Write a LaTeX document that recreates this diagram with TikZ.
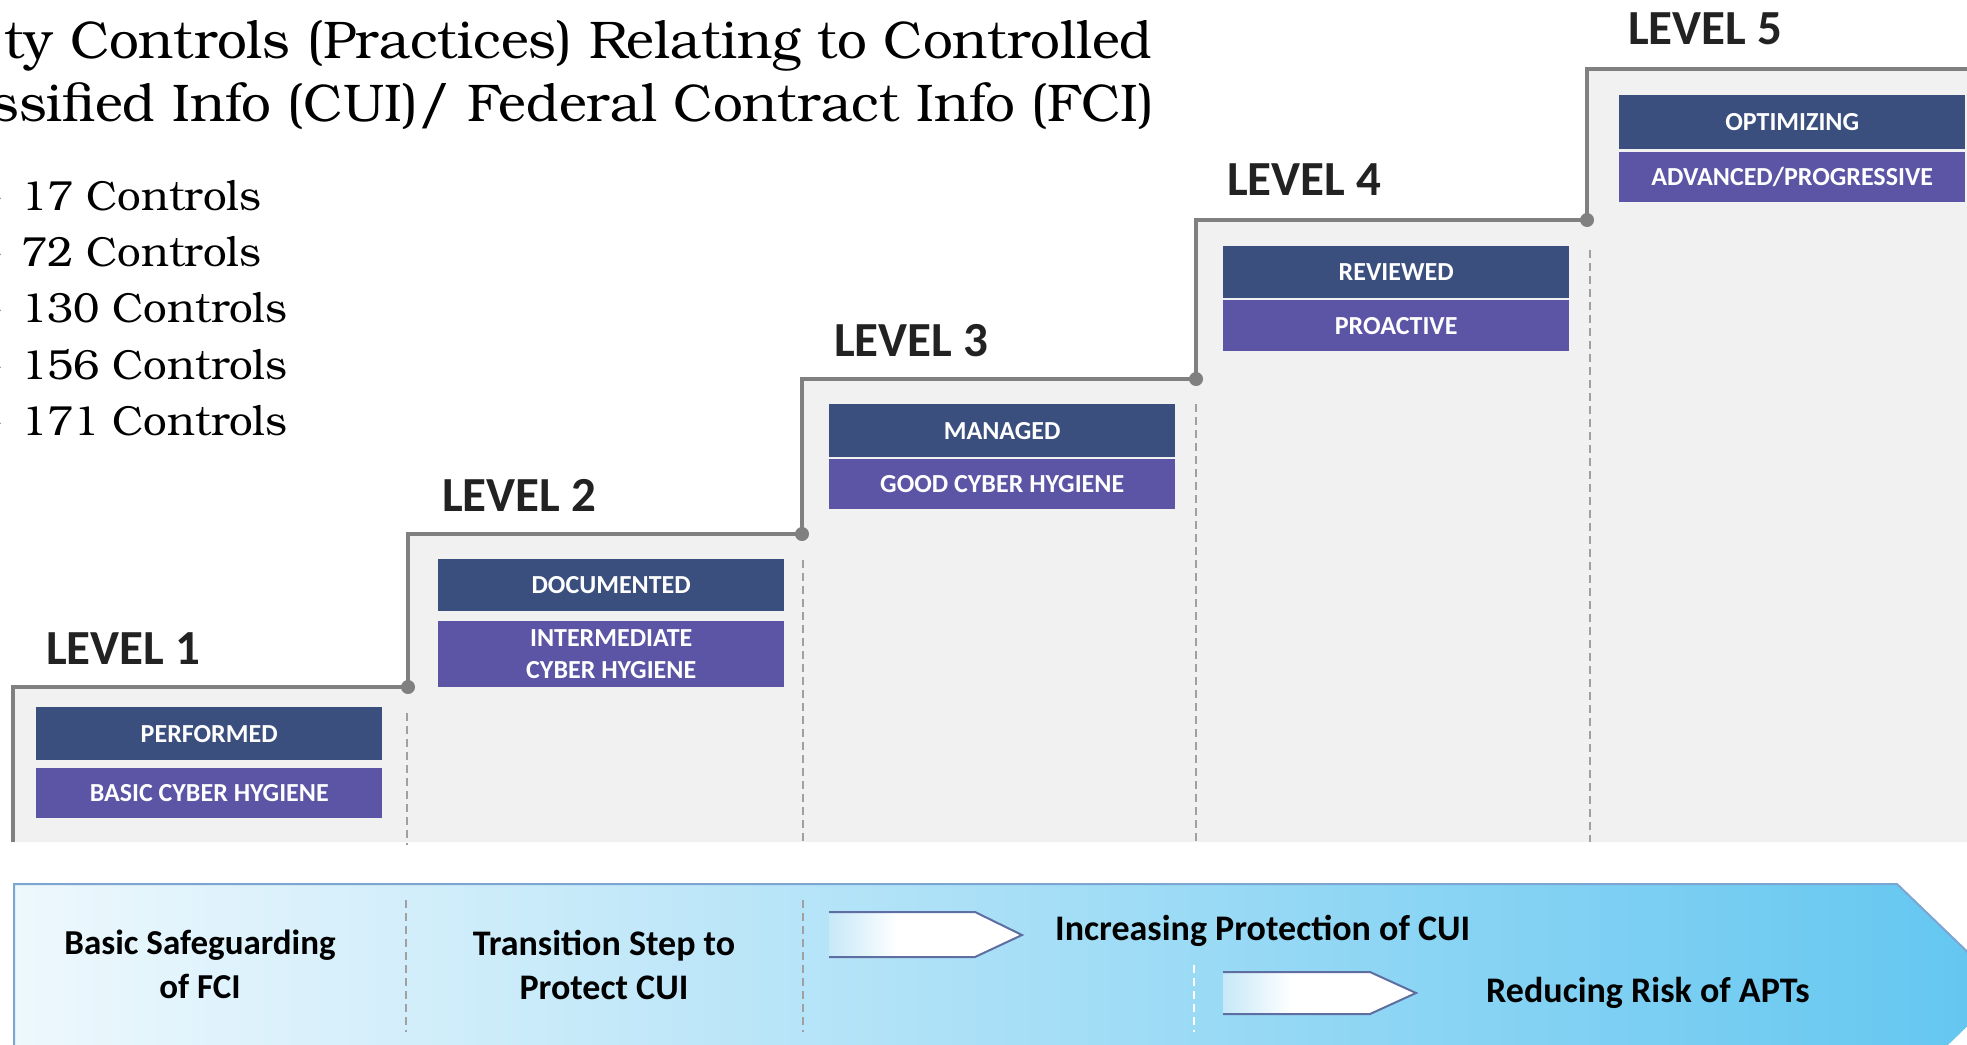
\documentclass[tikz,border=0pt]{standalone}
\usepackage{fontspec}
\setmainfont{Carlito}
\newfontfamily\bookfont{TeX Gyre Bonum}
\usetikzlibrary{calc}

\definecolor{stepgray}{RGB}{128,128,128}
\definecolor{panelgray}{RGB}{241,241,241}
\definecolor{navyfill}{RGB}{59,79,127}
\definecolor{purplefill}{RGB}{92,85,165}
\definecolor{dashgray}{RGB}{160,160,160}
\definecolor{labelink}{RGB}{34,34,34}
\definecolor{bandL}{RGB}{238,248,253}
\definecolor{bandM}{RGB}{190,230,247}
\definecolor{bandR}{RGB}{98,198,240}
\definecolor{bandedge}{RGB}{125,165,210}
\definecolor{arrowedge}{RGB}{95,110,160}

% light-blue to white fade used inside the small arrows
\pgfdeclarehorizontalshading{arrowfade}{100bp}{rgb(0bp)=(0.78,0.91,0.97); rgb(25bp)=(0.78,0.91,0.97); rgb(43bp)=(1,1,1); rgb(100bp)=(1,1,1)}

\tikzset{
  lvl/.style={font=\fontsize{49}{52}\selectfont\bfseries, text=labelink, anchor=base west, inner sep=0pt},
  tagbox/.style={anchor=north west, minimum width=346pt, inner sep=0pt, text=white, align=center,
                 font=\fontsize{26}{32}\selectfont\bfseries},
  navybox/.style={tagbox, fill=navyfill},
  purplebox/.style={tagbox, fill=purplefill},
  stepline/.style={draw=stepgray, line width=4pt, line join=miter},
  stepdot/.style={circle, fill=stepgray, inner sep=0pt, minimum size=14pt},
  guide/.style={draw=dashgray, line width=2pt, dash pattern=on 8pt off 5pt},
  lightguide/.style={draw=white, line width=2pt, dash pattern=on 8pt off 5pt},
  titletext/.style={font=\bookfont\fontsize{53}{63}\selectfont, anchor=base east, inner sep=0pt},
  counttext/.style={font=\bookfont\fontsize{42}{50}\selectfont, anchor=base west, inner sep=0pt},
  bandtext/.style={text=black, inner sep=0pt},
  minor/.style={draw=arrowedge, line width=2pt, line join=miter},
}

\begin{document}
\begin{tikzpicture}[x=1pt,y=-1pt]
\useasboundingbox (0,0) rectangle (1967,1044);
\clip (0,0) rectangle (1967,1044);

% ---- heading and control counts ----
\node[titletext] (title1) at (1153,58) {ty Controls (Practices) Relating to Controlled};
\node[titletext] (title2) at (1155,121) {ssified Info (CUI)/ Federal Contract Info (FCI)};

\node[counttext] (c1) at (21,210) {\llap{-\hspace{18pt}}17 Controls};
\node[counttext] (c2) at (21,266) {\llap{-\hspace{18pt}}72 Controls};
\node[counttext] (c3) at (21,322) {\llap{-\hspace{18pt}}130 Controls};
\node[counttext] (c4) at (21,379) {\llap{-\hspace{18pt}}156 Controls};
\node[counttext] (c5) at (21,435) {\llap{-\hspace{18pt}}171 Controls};

% ---- staircase ----
\coordinate (s0) at (13,842);
\coordinate (s1) at (13,687);
\coordinate (d1) at (408,687);
\coordinate (s2) at (408,534);
\coordinate (d2) at (802,534);
\coordinate (s3) at (802,379);
\coordinate (d3) at (1196,379);
\coordinate (s4) at (1196,220);
\coordinate (d4) at (1587,220);
\coordinate (s5) at (1587,69);
\coordinate (s6) at (1967,69);
\coordinate (s7) at (1967,842);

\fill[panelgray] (s0) -- (s1) -- (d1) -- (s2) -- (d2) -- (s3) -- (d3) -- (s4) -- (d4) -- (s5) -- (s6) -- (s7) -- cycle;

% column separators
\draw[guide] (407,713) -- (407,845);
\draw[guide] (803,560) -- (803,842);
\draw[guide] (1196,404) -- (1196,842);
\draw[guide] (1590,250) -- (1590,842);

\draw[stepline] (s0) -- (s1) -- (d1) -- (s2) -- (d2) -- (s3) -- (d3) -- (s4) -- (d4) -- (s5) -- (s6);
\foreach \d in {d1,d2,d3,d4} \node[stepdot] at (\d) {};

% level captions
\node[lvl] (L1) at (46,664) {LEVEL 1};
\node[lvl] (L2) at (442,511) {LEVEL 2};
\node[lvl] (L3) at (834,356) {LEVEL 3};
\node[lvl] (L4) at (1227,195) {LEVEL 4};
\node[lvl] (L5) at (1628,44) {LEVEL 5};

% maturity / hygiene tags
\node[navybox, minimum height=53pt] (p1) at (36,707) {PERFORMED};
\node[purplebox, minimum height=50pt] (h1) at (36,768) {BASIC CYBER HYGIENE};

\node[navybox, minimum height=52pt] (p2) at (438,559) {DOCUMENTED};
\node[purplebox, minimum height=66pt] (h2) at (438,621) {INTERMEDIATE\\CYBER HYGIENE};

\node[navybox, minimum height=53pt] (p3) at (829,404) {MANAGED};
\node[purplebox, minimum height=50pt] (h3) at (829,459) {GOOD CYBER HYGIENE};

\node[navybox, minimum height=52pt] (p4) at (1223,246) {REVIEWED};
\node[purplebox, minimum height=51pt] (h4) at (1223,300) {PROACTIVE};

\node[navybox, minimum height=54pt] (p5) at (1619,95) {OPTIMIZING};
\node[purplebox, minimum height=50pt] (h5) at (1619,152) {ADVANCED/PROGRESSIVE};

% ---- bottom band ----
\shade[left color=bandL, middle color=bandM, right color=bandR]
  (14,884) -- (1897,884) -- (2006,989) -- (1897,1094) -- (14,1094) -- cycle;
\draw[draw=bandedge, line width=2pt] (14,1094) -- (14,884) -- (1897,884) -- (2006,989);

\draw[guide] (406,900) -- (406,1032);
\draw[guide] (803,900) -- (803,1032);
\draw[lightguide] (1194,965) -- (1194,1032);

\node[bandtext, align=center, font=\fontsize{35}{44}\selectfont\bfseries] (fci) at (200,964) {Basic Safeguarding\\of FCI};
\node[bandtext, align=center, font=\fontsize{36}{44}\selectfont\bfseries] (cui) at (604,965) {Transition Step to\\Protect CUI};

% small chevrons
\shade[shading=arrowfade] (829,912) -- (975,912) -- (1022,935) -- (975,957) -- (829,957) -- cycle;
\draw[minor] (829,912) -- (975,912) -- (1022,935) -- (975,957) -- (829,957);
\shade[shading=arrowfade] (1223,972) -- (1370,972) -- (1416,993) -- (1370,1014) -- (1223,1014) -- cycle;
\draw[minor] (1223,972) -- (1370,972) -- (1416,993) -- (1370,1014) -- (1223,1014);

\node[bandtext, anchor=base west, font=\fontsize{36}{40}\selectfont\bfseries] (prot) at (1055,940) {Increasing Protection of CUI};
\node[bandtext, anchor=base west, font=\fontsize{36}{40}\selectfont\bfseries] (apt) at (1486,1002) {Reducing Risk of APTs};
\end{tikzpicture}
\end{document}
